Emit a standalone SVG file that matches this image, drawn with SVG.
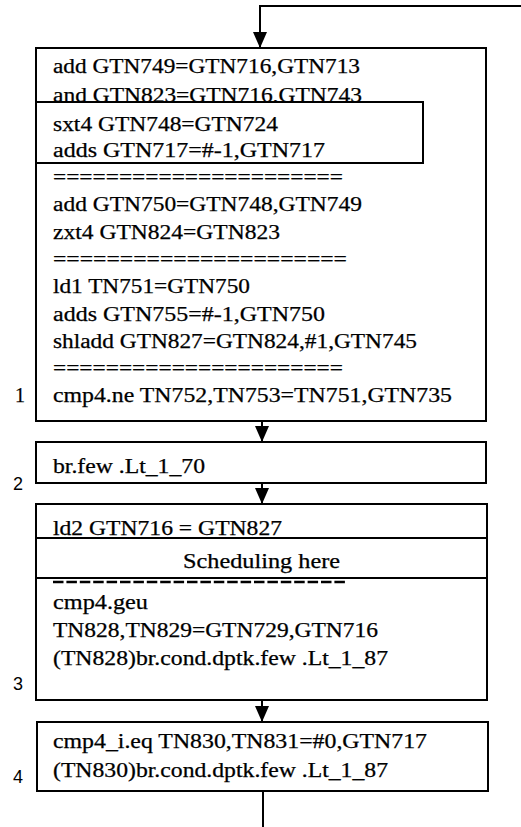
<svg xmlns="http://www.w3.org/2000/svg" width="521" height="827" viewBox="0 0 521 827">
  <style>
    .box { fill: #fff; stroke: #000; stroke-width: 2; }
    .code { font-family: 'Liberation Serif', 'DejaVu Serif', 'Times New Roman', serif; font-size: 20px; fill: #000; stroke: #000; stroke-width: 0.25; }
    .num { font-family: 'Liberation Sans', Arial, sans-serif; font-size: 18px; fill: #000; }
    .wire { fill: none; stroke: #000; stroke-width: 2; }
    .rule { fill: none; stroke: #000; stroke-width: 2.5; stroke-dasharray: 10.5 2.9; }
  </style>
  <defs>
    <marker id="arrow" viewBox="0 0 16 14" refX="15" refY="7" markerWidth="16" markerHeight="14" markerUnits="userSpaceOnUse" orient="auto">
      <path d="M0,0 L16,7 L0,14 Z" fill="#000"/>
    </marker>
  </defs>
  <rect width="521" height="827" fill="#fff"/>

  <!-- block 1 -->
  <g id="block1">
    <rect class="box" x="36" y="48" width="450" height="373"/>
    <text class="code" x="53" y="73" textLength="307" lengthAdjust="spacingAndGlyphs">add GTN749=GTN716,GTN713</text>
    <text class="code" x="53" y="102" textLength="309" lengthAdjust="spacingAndGlyphs">and GTN823=GTN716,GTN743</text>
    <g id="block1-inner">
      <rect class="box" x="36" y="102" width="387" height="61"/>
      <text class="code" x="53" y="131" textLength="225" lengthAdjust="spacingAndGlyphs">sxt4 GTN748=GTN724</text>
      <text class="code" x="53" y="157" textLength="272" lengthAdjust="spacingAndGlyphs">adds GTN717=#-1,GTN717</text>
    </g>
    <text class="code" x="53" y="184" textLength="290" lengthAdjust="spacingAndGlyphs">======================</text>
    <text class="code" x="53" y="211" textLength="309" lengthAdjust="spacingAndGlyphs">add GTN750=GTN748,GTN749</text>
    <text class="code" x="53" y="239" textLength="227" lengthAdjust="spacingAndGlyphs">zxt4 GTN824=GTN823</text>
    <text class="code" x="53" y="266" textLength="294" lengthAdjust="spacingAndGlyphs">======================</text>
    <text class="code" x="53" y="293" textLength="197" lengthAdjust="spacingAndGlyphs">ld1 TN751=GTN750</text>
    <text class="code" x="53" y="321" textLength="272" lengthAdjust="spacingAndGlyphs">adds GTN755=#-1,GTN750</text>
    <text class="code" x="53" y="348" textLength="364" lengthAdjust="spacingAndGlyphs">shladd GTN827=GTN824,#1,GTN745</text>
    <text class="code" x="53" y="375" textLength="290" lengthAdjust="spacingAndGlyphs">======================</text>
    <text class="code" x="53" y="402" textLength="399" lengthAdjust="spacingAndGlyphs">cmp4.ne TN752,TN753=TN751,GTN735</text>
    <text class="code" x="15" y="402">1</text>
  </g>

  <!-- block 2 -->
  <g id="block2">
    <rect class="box" x="36" y="442" width="450" height="41"/>
    <text class="code" x="53" y="473" textLength="152" lengthAdjust="spacingAndGlyphs">br.few .Lt_1_70</text>
    <text class="num" x="13" y="490">2</text>
  </g>

  <!-- block 3 -->
  <g id="block3">
    <rect class="box" x="36" y="504" width="451" height="196"/>
    <text class="code" x="53" y="535" textLength="229" lengthAdjust="spacingAndGlyphs">ld2 GTN716 = GTN827</text>
    <!-- lower edge of a separator row showing under the scheduling band -->
    <line class="rule" x1="53" y1="582" x2="347" y2="582"/>
    <g id="block3-sched">
      <rect class="box" x="36" y="538" width="451" height="40"/>
      <text class="code" x="183" y="568" textLength="157" lengthAdjust="spacingAndGlyphs">Scheduling here</text>
    </g>
    <text class="code" x="53" y="609" textLength="95" lengthAdjust="spacingAndGlyphs">cmp4.geu</text>
    <text class="code" x="53" y="637" textLength="325" lengthAdjust="spacingAndGlyphs">TN828,TN829=GTN729,GTN716</text>
    <text class="code" x="53" y="665" textLength="335" lengthAdjust="spacingAndGlyphs">(TN828)br.cond.dptk.few .Lt_1_87</text>
    <text class="num" x="13" y="690">3</text>
  </g>

  <!-- block 4 -->
  <g id="block4">
    <rect class="box" x="37" y="722" width="451" height="69"/>
    <text class="code" x="53" y="748" textLength="374" lengthAdjust="spacingAndGlyphs">cmp4_i.eq TN830,TN831=#0,GTN717</text>
    <text class="code" x="53" y="777" textLength="335" lengthAdjust="spacingAndGlyphs">(TN830)br.cond.dptk.few .Lt_1_87</text>
    <text class="num" x="13" y="783">4</text>
  </g>

  <!-- connectors -->
  <g id="connectors">
    <polyline class="wire" points="521,6 260,6 260,47" marker-end="url(#arrow)"/>
    <line class="wire" x1="262" y1="421" x2="262" y2="441" marker-end="url(#arrow)"/>
    <line class="wire" x1="262" y1="483" x2="262" y2="503" marker-end="url(#arrow)"/>
    <line class="wire" x1="262" y1="700" x2="262" y2="721" marker-end="url(#arrow)"/>
    <line class="wire" x1="263" y1="791" x2="263" y2="827"/>
  </g>
</svg>
